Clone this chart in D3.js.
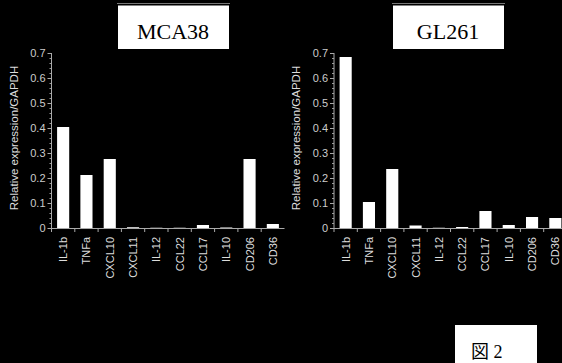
<!DOCTYPE html>
<html lang="ja">
  <head>
    <meta charset="UTF-8" />
    <title>MCA38 / GL261</title>
    <script src="https://d3js.org/d3.v7.min.js"></script>
    <style>
      body { margin: 0; background: #000; }
    </style>
  </head>
  <body>
    <svg width="562" height="363"></svg>

    <script>
      // genes on the x axis
      var genes = ["IL-1b", "TNFa", "CXCL10", "CXCL11", "IL-12", "CCL22", "CCL17", "IL-10", "CD206", "CD36"];
      // values
      var mca38 = [0.404, 0.212, 0.276, 0.003, 0.001, 0.001, 0.012, 0.002, 0.276, 0.016];
      var gl261 = [0.684, 0.104, 0.236, 0.01, 0.001, 0.004, 0.068, 0.012, 0.044, 0.04];
      var yTicks = [0, 0.1, 0.2, 0.3, 0.4, 0.5, 0.6, 0.7];
      var titles = ["MCA38", "GL261"];

      var svg = d3.select("svg");
      svg.append("rect").attr("width", 562).attr("height", 363).attr("fill", "#000");

      var y = d3.scaleLinear().domain([0, 0.7]).range([228, 53]);
      var sans = "Arial, 'Liberation Sans', sans-serif";

      function panel(x0, values, title, titleX) {
        var x = d3.scaleBand().domain(genes).range([x0, x0 + 233]).paddingInner(0.48).paddingOuter(0.24);
        var g = svg.append("g");

        // bars
        g.selectAll("rect.bar")
          .data(values)
          .enter()
          .append("rect")
          .attr("class", "bar")
          .attr("x", function (d, i) { return x(genes[i]); })
          .attr("width", x.bandwidth())
          .attr("y", function (d) { return y(d); })
          .attr("height", function (d) { return y(0) - y(d); })
          .attr("fill", "#fff");

        // y axis, minor ticks first
        var minor = d3.axisLeft(y).ticks(35).tickSize(2).tickFormat("");
        g.append("g").attr("transform", "translate(" + x0 + ",0)").call(minor)
          .call(function (s) { s.select(".domain").remove(); s.selectAll("line").attr("stroke", "#999"); });

        var yAxis = d3.axisLeft(y).tickValues(yTicks).tickSize(4).tickPadding(2)
          .tickFormat(function (d) { return d === 0 ? "0" : d3.format(".1f")(d); });
        g.append("g").attr("transform", "translate(" + x0 + ",0)").call(yAxis)
          .call(function (s) {
            s.select(".domain").attr("stroke", "#aaa").attr("d", "M0," + y(0.7) + "V" + y(0));
            s.selectAll("line").attr("stroke", "#aaa");
            s.selectAll("text").attr("fill", "#ccc").style("font", "11px " + sans);
          });

        // x axis: ticks at band edges
        g.append("line").attr("x1", x0).attr("x2", x0 + 233).attr("y1", y(0) + 0.5).attr("y2", y(0) + 0.5).attr("stroke", "#aaa");
        g.selectAll("line.xt")
          .data(genes)
          .enter()
          .append("line")
          .attr("class", "xt")
          .attr("x1", function (d) { return x(d) - x.step() * x.paddingInner() / 2; })
          .attr("x2", function (d) { return x(d) - x.step() * x.paddingInner() / 2; })
          .attr("y1", y(0))
          .attr("y2", y(0) + 4)
          .attr("stroke", "#aaa");

        g.selectAll("text.xl")
          .data(genes)
          .enter()
          .append("text")
          .attr("class", "xl")
          .attr("transform", function (d) {
            return "translate(" + (x(d) + x.bandwidth() / 2 + 4) + "," + (y(0) + 9) + ") rotate(-90)";
          })
          .attr("text-anchor", "end")
          .attr("fill", "#ddd")
          .style("font", "11px " + sans)
          .text(function (d) { return d; });

        // y label
        g.append("text")
          .attr("transform", "translate(" + (x0 - 34) + ",138) rotate(-90)")
          .attr("text-anchor", "middle")
          .attr("fill", "#ddd")
          .style("font", "11.5px " + sans)
          .text("Relative expression/GAPDH");

        // title box
        g.append("line").attr("x1", titleX - 56).attr("x2", titleX + 57).attr("y1", 3.5).attr("y2", 3.5).attr("stroke", "#777");
        g.append("rect").attr("x", titleX - 55).attr("y", 5.5).attr("width", 111).attr("height", 43.5).attr("fill", "#fff");
        g.append("text")
          .attr("x", titleX)
          .attr("y", 39)
          .attr("text-anchor", "middle")
          .attr("fill", "#000")
          .style("font", "22px 'Liberation Serif', 'DejaVu Serif', serif")
          .text(title);
      }

      panel(51.5, mca38, titles[0], 173);
      panel(334, gl261, titles[1], 448);

      // figure label
      svg.append("rect").attr("x", 455).attr("y", 325).attr("width", 82).attr("height", 40).attr("fill", "#fff");
      svg.append("text")
        .attr("x", 471)
        .attr("y", 358)
        .attr("fill", "#000")
        .style("font", "18px 'Liberation Serif', 'Noto Sans CJK JP', serif")
        .text("図 2");
    </script>
  </body>
</html>
